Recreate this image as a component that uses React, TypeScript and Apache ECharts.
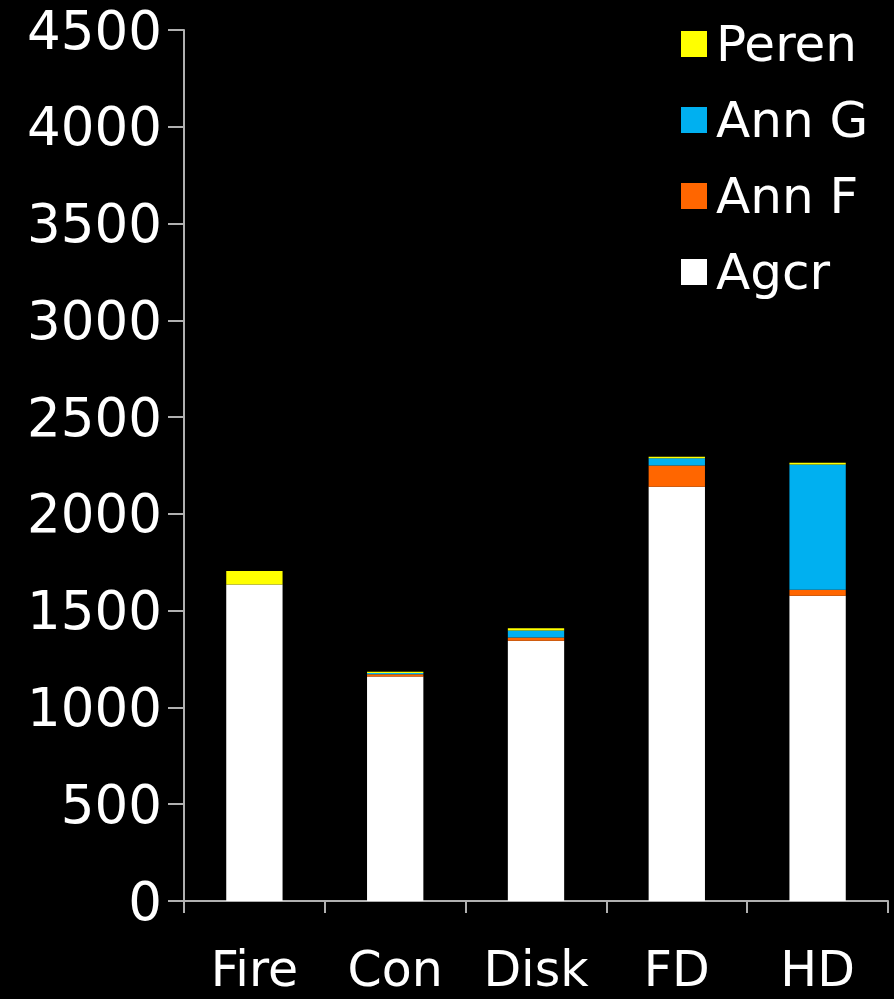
import React, { useEffect, useRef } from "react";
import * as echarts from "echarts";

const categories = ["Fire", "Con", "Disk", "FD", "HD"];
const agcr = [1635, 1160, 1345, 2140, 1577];
const annF = [0, 12, 17, 110, 31];
const annG = [0, 6, 35, 38, 647];
const peren = [70, 6, 12, 7, 9];
const legendOrder = ["Peren", "Ann G", "Ann F", "Agcr"];

export default function App() {
  const ref = useRef<HTMLDivElement>(null);
  useEffect(() => {
    if (!ref.current) return;
    const chart = echarts.init(ref.current, null, { renderer: "svg" });
    const font = "DejaVu Sans, sans-serif";
    const mk = (name: string, data: number[], color: string) => ({
      name,
      type: "bar",
      stack: "total",
      data,
      barWidth: "40%",
      itemStyle: { color },
    });
    chart.setOption({
      animation: false,
      backgroundColor: "#000000",
      grid: { left: 184, right: 6, top: 30, bottom: 98 },
      legend: {
        data: legendOrder,
        orient: "vertical",
        left: 676,
        top: 14,
        icon: "rect",
        itemWidth: 26,
        itemHeight: 26,
        itemGap: 26,
        textStyle: { color: "#ffffff", fontSize: 50, fontFamily: font, padding: [0, 0, 0, 4] },
      },
      xAxis: {
        type: "category",
        data: categories,
        axisLine: { lineStyle: { color: "#b0b0b0", width: 2 } },
        axisTick: { show: true, length: 12, lineStyle: { color: "#b0b0b0", width: 2 } },
        axisLabel: { color: "#ffffff", fontSize: 49, fontFamily: font, margin: 44 },
      },
      yAxis: {
        type: "value",
        min: 0,
        max: 4500,
        interval: 500,
        splitLine: { show: false },
        axisLine: { show: true, lineStyle: { color: "#b0b0b0", width: 2 } },
        axisTick: { show: true, length: 16, lineStyle: { color: "#b0b0b0", width: 2 } },
        axisLabel: {
          color: "#ffffff",
          fontSize: 53,
          fontFamily: font,
          margin: 22,
          formatter: (v: number) => String(v),
        },
      },
      series: [
        mk("Agcr", agcr, "#ffffff"),
        mk("Ann F", annF, "#ff6600"),
        mk("Ann G", annG, "#00b0f0"),
        mk("Peren", peren, "#ffff00"),
      ],
    });
    return () => chart.dispose();
  }, []);
  return (
    <div style={{ position: "fixed", left: 0, top: 0, width: 894, height: 999, background: "#000" }}>
      <div ref={ref} style={{ width: 894, height: 999 }} />
    </div>
  );
}
